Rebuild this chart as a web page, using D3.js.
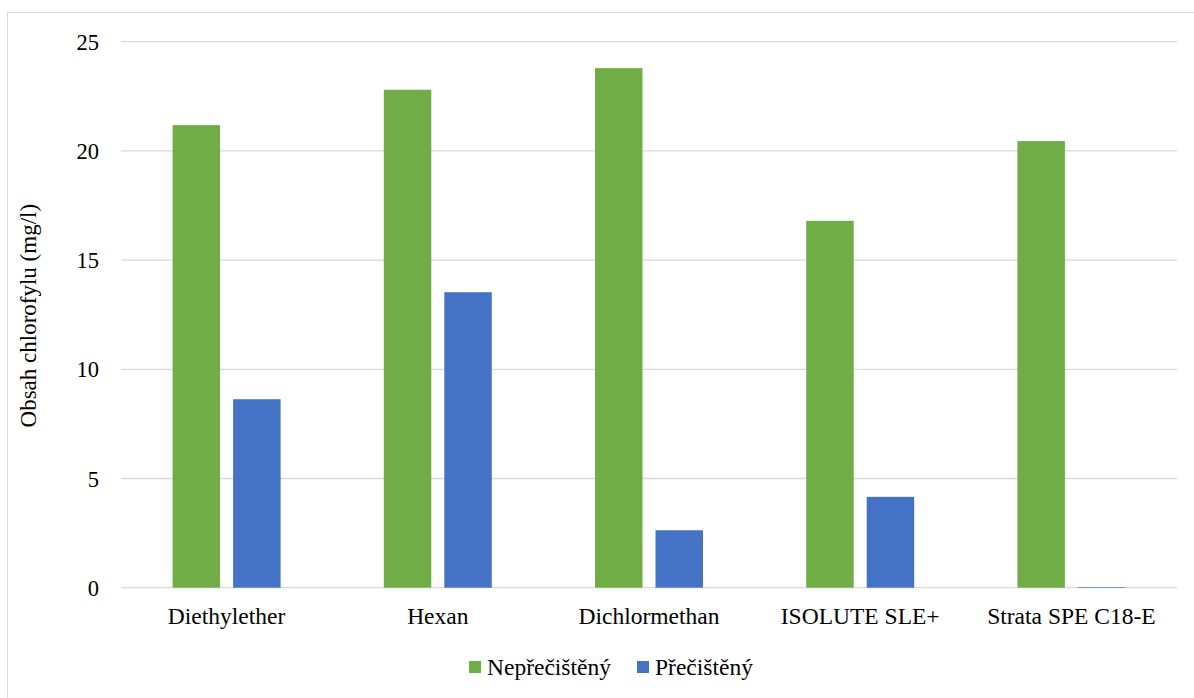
<!DOCTYPE html>
<html>
<head>
<meta charset="utf-8">
<script src="https://cdn.jsdelivr.net/npm/d3@7/dist/d3.min.js"></script>
<style>
  html, body { margin: 0; padding: 0; background: #fff; }
  svg { display: block; }
</style>
</head>
<body>
<svg id="chart" width="1194" height="698"></svg>
<script>
// Chlorophyll content by extraction method
const categories = ["Diethylether", "Hexan", "Dichlormethan", "ISOLUTE SLE+", "Strata SPE C18-E"];
const seriesNames = ["Nepřečištěný", "Přečištěný"];
const unpurified = [21.18, 22.8, 23.79, 16.8, 20.45];
const purified = [8.63, 13.53, 2.63, 4.16, 0.03];
const yTicks = [0, 5, 10, 15, 20, 25];
const colors = ["#70AD47", "#4472C4"];

const svg = d3.select("#chart");
const W = 1194, H = 698;
const margin = { left: 121, right: 17, top: 41.7, bottom: 110.3 };
const plotW = W - margin.left - margin.right;
const plotH = H - margin.top - margin.bottom;
const serif = '"Liberation Serif"';

// outer frame
svg.append("rect")
  .attr("x", 7.5).attr("y", 12.5)
  .attr("width", W).attr("height", H)
  .attr("fill", "none").attr("stroke", "#d9d9d9").attr("stroke-width", 1);

const g = svg.append("g").attr("transform", `translate(${margin.left},${margin.top})`);

const x0 = d3.scaleBand().domain(categories).range([0, plotW]).paddingInner(0).paddingOuter(0);
const x1 = d3.scaleBand().domain(seriesNames).range([0, x0.bandwidth()]).paddingInner(0.215).paddingOuter(0.853);
const y = d3.scaleLinear().domain([0, 25]).range([plotH, 0]);

// gridlines
g.append("g")
  .selectAll("line")
  .data(yTicks)
  .join("line")
  .attr("x1", 0).attr("x2", plotW)
  .attr("y1", d => y(d)).attr("y2", d => y(d))
  .attr("stroke", "#d9d9d9").attr("stroke-width", 1.3);

// y tick labels
const yAxis = d3.axisLeft(y).tickValues(yTicks).tickSize(0).tickPadding(0);
const ya = g.append("g").attr("transform", "translate(-22,0)").call(yAxis);
ya.select(".domain").remove();
ya.selectAll("text")
  .style("font-family", serif)
  .style("font-size", "22.5px")
  .attr("dy", "0.34em")
  .attr("fill", "#000");

// bars
const data = categories.map((c, i) => ({ cat: c, vals: [unpurified[i], purified[i]] }));
const groups = g.append("g").selectAll("g")
  .data(data)
  .join("g")
  .attr("transform", d => `translate(${x0(d.cat)},0)`);

groups.selectAll("rect")
  .data(d => d.vals.map((v, k) => ({ name: seriesNames[k], v, k })))
  .join("rect")
  .attr("x", d => x1(d.name))
  .attr("width", x1.bandwidth())
  .attr("y", d => y(d.v))
  .attr("height", d => y(0) - y(d.v))
  .attr("fill", d => colors[d.k]);

// category labels
const xAxis = d3.axisBottom(x0).tickSize(0).tickPadding(0);
const xa = g.append("g").attr("transform", `translate(0,${plotH + 36})`).call(xAxis);
xa.select(".domain").remove();
xa.selectAll("text")
  .style("font-family", serif)
  .style("font-size", "23.5px")
  .attr("dy", "0")
  .attr("fill", "#000");

// y axis title
svg.append("text")
  .attr("transform", `translate(36,${margin.top + plotH / 2 + 1}) rotate(-90)`)
  .attr("text-anchor", "middle")
  .style("font-family", serif)
  .style("font-size", "23px")
  .attr("fill", "#000")
  .text("Obsah chlorofylu (mg/l)");

// legend
const legendItems = [
  { name: seriesNames[0], color: colors[0], x: 469 },
  { name: seriesNames[1], color: colors[1], x: 637 }
];
const lg = svg.append("g");
legendItems.forEach(it => {
  lg.append("rect").attr("x", it.x).attr("y", 661).attr("width", 12).attr("height", 12).attr("fill", it.color);
  lg.append("text").attr("x", it.x + 18).attr("y", 675)
    .style("font-family", serif).style("font-size", "23.5px")
    .attr("fill", "#000")
    .text(it.name);
});
</script>
</body>
</html>
